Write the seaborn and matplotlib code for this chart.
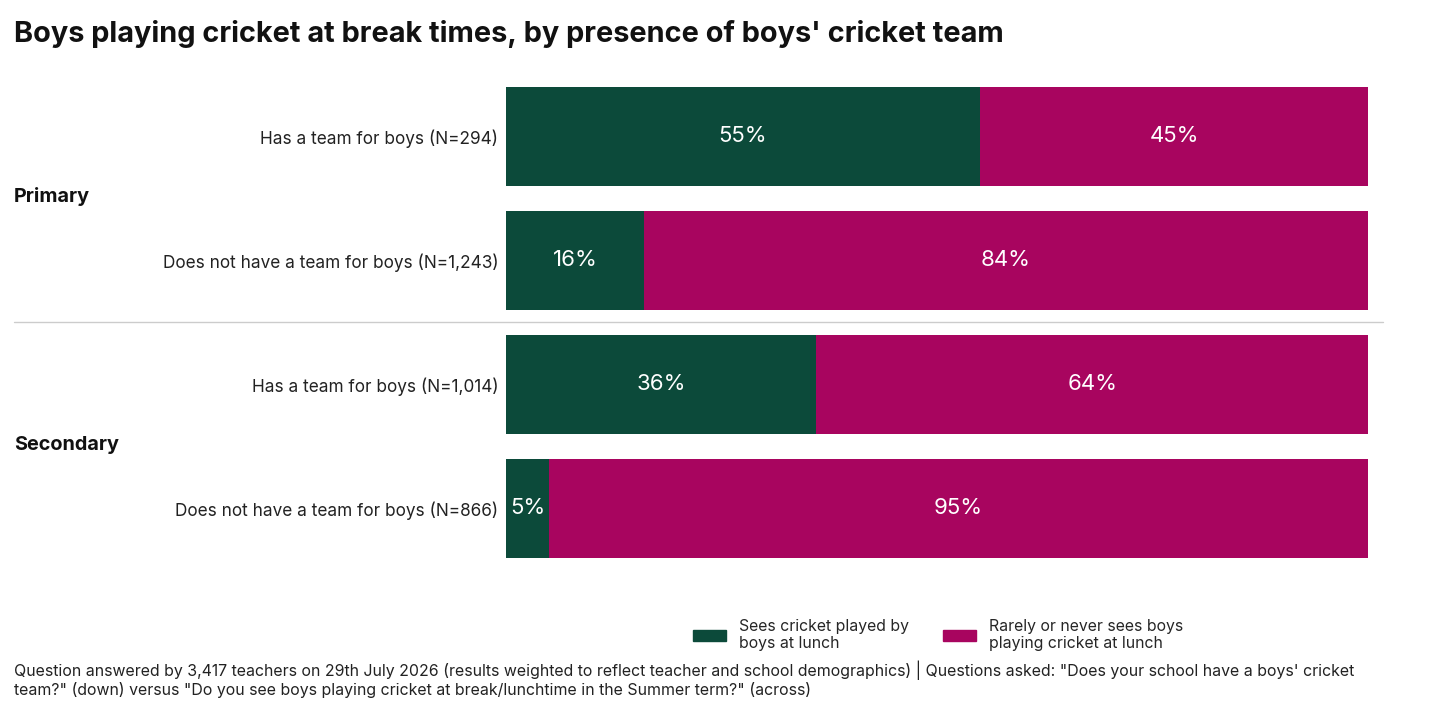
import matplotlib
matplotlib.use("Agg")
import matplotlib.pyplot as plt
import seaborn as sns
import pandas as pd
from matplotlib.patches import Patch
from matplotlib.lines import Line2D

categories = [
    "Has a team for boys (N=294)",
    "Does not have a team for boys (N=1,243)",
    "Has a team for boys (N=1,014)",
    "Does not have a team for boys (N=866)",
]
groups = ["Primary", "Secondary"]
sees = [55, 16, 36, 5]
rarely = [45, 84, 64, 95]
series_names = ["Sees cricket played by\nboys at lunch", "Rarely or never sees boys\nplaying cricket at lunch"]
title = "Boys playing cricket at break times, by presence of boys' cricket team"
footer = ("Question answered by 3,417 teachers on 29th July 2026 (results weighted to reflect teacher and school demographics) | Questions asked: \"Does your school have a boys' cricket\n"
          "team?\" (down) versus \"Do you see boys playing cricket at break/lunchtime in the Summer term?\" (across)")

GREEN = "#0c4a3a"
MAGENTA = "#a8055f"

sns.set_style("white")
plt.rcParams["font.family"] = ["Inter", "DejaVu Sans"]

df = pd.DataFrame({"cat": categories, "sees": sees, "rarely": rarely})
df["total"] = df["sees"] + df["rarely"]

fig = plt.figure(figsize=(14.4, 7.2), dpi=100)
ax = fig.add_axes([506/1440, 1-570.5/720, (1368-506)/1440, (570.5-74.5)/720])

sns.barplot(data=df, y="cat", x="total", color=MAGENTA, orient="h", width=0.8, ax=ax,
            saturation=1, linewidth=0, edgecolor="none")
sns.barplot(data=df, y="cat", x="sees", color=GREEN, orient="h", width=0.8, ax=ax,
            saturation=1, linewidth=0, edgecolor="none")

ax.set_xlim(0, 100)
ax.set_ylim(3.5, -0.5)
ax.set_xlabel("")
ax.set_ylabel("")
ax.set_xticks([])
for s in ax.spines.values():
    s.set_visible(False)
ax.tick_params(axis="y", length=0, pad=5.5, labelsize=12.4, labelcolor="#222222")

for i, (g, r) in enumerate(zip(sees, rarely)):
    ax.text(g/2, i, f"{g}%", ha="center", va="center", color="white", fontsize=16)
    ax.text(g + r/2, i, f"{r}%", ha="center", va="center", color="white", fontsize=16)

fig.text(14/1440, 1-34/720, title, fontsize=20.8, fontweight="bold", ha="left", va="center", color="#111111")
fig.text(14/1440, 1-197/720, groups[0], fontsize=14.3, fontweight="bold", ha="left", va="center", color="#111111")
fig.text(14/1440, 1-445/720, groups[1], fontsize=14.3, fontweight="bold", ha="left", va="center", color="#111111")
fig.add_artist(Line2D([14/1440, 1383/1440], [1-322/720, 1-322/720], color="#cccccc", lw=1))

handles = [Patch(color=GREEN), Patch(color=MAGENTA)]
fig.legend(handles, series_names, loc="upper left", bbox_to_anchor=(693/1440, 1-619/720), ncol=2,
           frameon=False, fontsize=11.4, handlelength=2.1, handleheight=0.7, columnspacing=2.15,
           handletextpad=0.8, labelspacing=0.2, borderpad=0, borderaxespad=0)

fig.text(14/1440, 1-661/720, footer, fontsize=11.45, ha="left", va="top", color="#222222", linespacing=1.15)

fig.savefig("out.png", dpi=100)
